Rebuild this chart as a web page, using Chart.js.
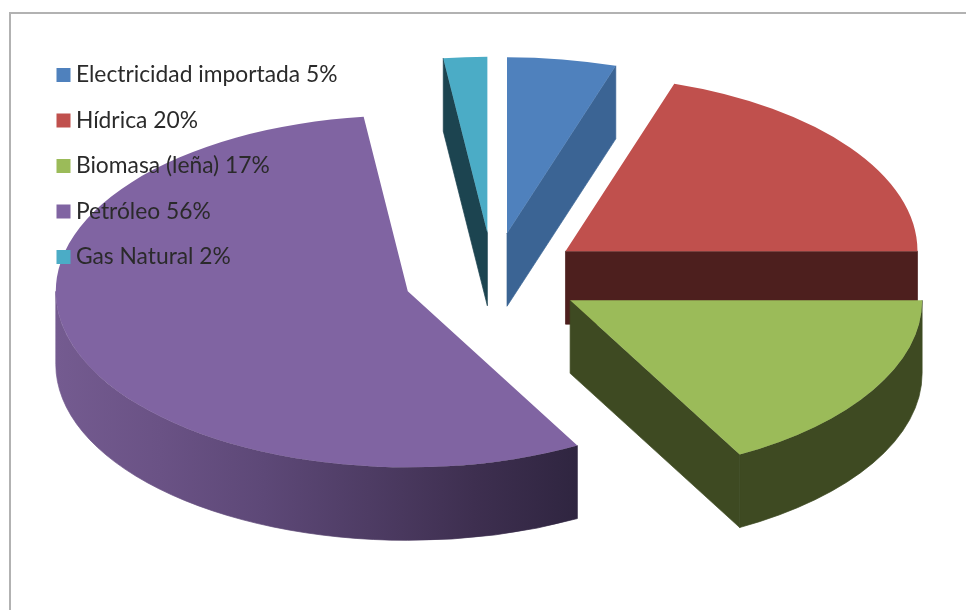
<!DOCTYPE html>
<html lang="es">
<head>
<meta charset="utf-8">
<title>Matriz energética</title>
<style>
  html, body { margin: 0; padding: 0; background: #fff; overflow: hidden; }
  #frame { position: absolute; left: 9px; top: 12px; width: 1000px; height: 700px; border: 2px solid #b2b2b2; box-sizing: border-box; }
  #stage { position: absolute; left: 0; top: 0; width: 966px; height: 610px; }
</style>
<script src="https://cdn.jsdelivr.net/npm/chart.js@4/dist/chart.umd.js"></script>
</head>
<body>
<div id="frame"></div>
<div id="stage"><canvas id="pie"></canvas></div>
<script>
const categories = ['Electricidad importada 5%', 'Hídrica 20%', 'Biomasa (leña) 17%', 'Petróleo 56%', 'Gas Natural 2%'];
const shares = [5, 20, 17, 56, 2];
const topColors = ['#4f81bd', '#c0504d', '#9bbb59', '#8064a2', '#4bacc6'];
const sideColors = ['#3b6494', '#4d1f1e', '#3e4a22', '#2f2540', '#1c4450'];
const wallStops = ['#745b90', '#6a5285', '#5d4877', '#4e3c64', '#3e2f50', '#2f2540'];

const SQUASH = 0.5;     // vertical flattening of the disc
const DEPTH = 73;       // thickness of the disc in pixels
const EXPLODE = 89.6;   // distance each slice is pulled from the centre
const RADIUS = 352;
const LEGEND_TOP = 41;

// Draws the pie as a tilted, exploded 3D disc from the arc elements the controller laid out.
const tiltedPie = {
  id: 'tiltedPie',
  beforeLayout(chart) {
    // The legend sits on top of the slices.
    const legend = chart.legend;
    legend._layers = () => [{ z: 1, draw: area => legend.draw(area) }];
  },
  afterLayout(chart) {
    chart.legend.top = LEGEND_TOP;
  },
  beforeDatasetDraw(chart, args) {
    const { ctx } = chart;
    args.meta.data.forEach((arc, i) => {
      const { x, y, startAngle: a0, endAngle: a1, outerRadius: r } = arc;
      const mid = (a0 + a1) / 2;
      const dx = Math.cos(mid) * EXPLODE;
      const dy = Math.sin(mid) * EXPLODE * SQUASH;
      const cx = x + dx, cy = y + dy;
      const rim = a => [cx + Math.cos(a) * r, cy + Math.sin(a) * r * SQUASH];

      // A hairline in the fill colour closes the seams between adjoining faces.
      const paint = style => {
        ctx.fillStyle = style;
        ctx.strokeStyle = style;
        ctx.lineWidth = 0.7;
        ctx.fill();
        ctx.stroke();
      };

      const cutFace = a => {
        const [px, py] = rim(a);
        ctx.beginPath();
        ctx.moveTo(cx, cy);
        ctx.lineTo(px, py);
        ctx.lineTo(px, py + DEPTH);
        ctx.lineTo(cx, cy + DEPTH);
        ctx.closePath();
        paint(sideColors[i]);
      };
      if (Math.cos(a1) > 1e-6) cutFace(a1);
      if (-Math.cos(a0) > 1e-6) cutFace(a0);

      // Outer wall: only the part of the rim facing the viewer.
      const from = Math.max(a0, 0), to = Math.min(a1, Math.PI);
      if (to > from) {
        ctx.beginPath();
        ctx.ellipse(cx, cy, r, r * SQUASH, 0, from, to);
        ctx.ellipse(cx, cy + DEPTH, r, r * SQUASH, 0, to, from, true);
        ctx.closePath();
        if (i === 3) {
          const [endX] = rim(from);
          const g = ctx.createLinearGradient(cx - r, 0, endX, 0);
          wallStops.forEach((c, k) => g.addColorStop(k / (wallStops.length - 1), c));
          paint(g);
        } else {
          paint(sideColors[i]);
        }
      }

      // Top face: the element's own drawing, moved and flattened.
      ctx.save();
      ctx.translate(cx, cy);
      ctx.scale(1, SQUASH);
      ctx.translate(-x, -y);
      arc.draw(ctx);
      ctx.restore();
    });
    return false;
  }
};

new Chart(document.getElementById('pie'), {
  type: 'pie',
  data: {
    labels: categories,
    datasets: [{ data: shares, backgroundColor: topColors, borderWidth: 0 }]
  },
  options: {
    responsive: true,
    maintainAspectRatio: false,
    animation: false,
    radius: RADIUS,
    rotation: 0,
    layout: { padding: { left: 39.8, right: 19.8, top: 42, bottom: 97 } },
    plugins: {
      tooltip: { enabled: false },
      legend: {
        position: 'chartArea',
        align: 'start',
        labels: {
          usePointStyle: true,
          pointStyle: 'rect',
          boxWidth: 2,
          boxHeight: 14,
          padding: 22.7,
          color: '#2a2a2a',
          font: { family: 'Lato', size: 22.8 }
        }
      }
    }
  },
  plugins: [tiltedPie]
});
</script>
</body>
</html>
